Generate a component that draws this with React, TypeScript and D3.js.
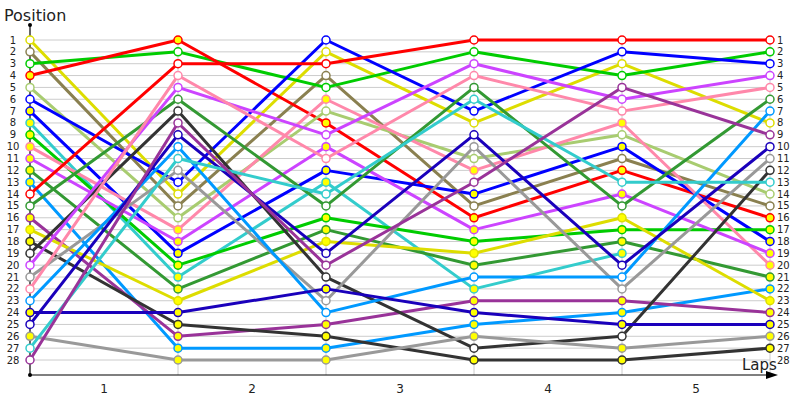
import React from "react";
import * as d3 from "d3";

const laps = ["1", "2", "3", "4", "5"];
const positionTicks = d3.range(1, 29);

const driverNames = [
  "yellowO", "olive", "greenO", "redF", "lightgreen", "blueO", "blueF", "tealF",
  "greenF", "pinkF", "violetF", "darkgreenF", "skyblueF", "redO", "darkgreenO",
  "purpleF", "yellowF", "darkgrayF", "darkgrayO", "violetO", "grayO", "pinkO",
  "skyblueO", "navyF", "navyO", "grayF", "tealO", "purpleO",
];
const driverColors = [
  "#dddd00", "#8a8050", "#00cc00", "#ff0000", "#a8cc70", "#0000ff", "#0000ff", "#33cccc",
  "#00cc00", "#ff88aa", "#cc44ff", "#339933", "#0099ff", "#ff0000", "#339933",
  "#993399", "#dddd00", "#333333", "#333333", "#cc44ff", "#999999", "#ff88aa",
  "#0099ff", "#1a00bb", "#1a00bb", "#999999", "#33cccc", "#993399",
];
const driverFilled = [
  false, false, false, true, false, false, true, true,
  true, true, true, true, true, false, false,
  true, true, true, false, false, false, false,
  false, true, false, true, false, false,
];
// positions at start, after lap 1..5 (null = retired)
const driverPositions: (number | null)[][] = [
  [1, 14, 2, 8, 3, 8],
  [2, 15, 4, 15, 11, 15],
  [3, 2, 5, 2, 4, 2],
  [4, 1, 8, 16, 12, 16],
  [5, 16, 7, 11, 9, 14],
  [6, 13, 1, 7, 2, 3],
  [7, 19, 12, 14, 10, 18],
  [8, 21, 13, 22, 19, null],
  [9, 20, 16, 18, 17, 17],
  [10, 17, 6, 12, 8, 20],
  [11, 18, 10, 17, 14, 19],
  [12, 22, 17, 20, 18, 21],
  [13, 27, 27, 25, 24, 22],
  [14, 3, 3, 1, 1, 1],
  [15, 6, 15, 5, 15, 6],
  [16, 26, 25, 23, 23, 24],
  [17, 23, 18, 19, 16, 23],
  [18, 25, 26, 28, 28, 27],
  [19, 7, 21, 27, 26, 12],
  [20, 5, 9, 3, 6, 4],
  [21, 12, 23, 10, 22, 11],
  [22, 4, 11, 4, 7, 5],
  [23, 10, 24, 21, 21, 7],
  [24, 24, 22, 24, 25, 25],
  [25, 9, 19, 9, 20, 10],
  [26, 28, 28, 26, 27, 26],
  [27, 11, 14, 6, 13, 13],
  [28, 8, 20, 13, 5, 9],
];

const W = 800;
const H = 400;

export default function App() {
  const x = d3.scaleLinear().domain([0, 5]).range([30, 770]);
  const y = d3.scaleLinear().domain([1, 28]).range([40, 360]);
  const axisY = 375;
  const font = "Tahoma, 'DejaVu Sans', sans-serif";

  const line = d3
    .line<[number, number | null]>()
    .defined((d) => d[1] !== null)
    .x((d) => x(d[0]))
    .y((d) => y(d[1] as number));

  return (
    <div style={{ position: "fixed", left: 0, top: 0 }}>
      <svg width={W} height={H} style={{ display: "block", background: "#fff" }}>
        {/* horizontal grid */}
        {positionTicks.map((p) => (
          <line key={"h" + p} x1={x(0)} x2={x(5)} y1={y(p)} y2={y(p)} stroke="#cccccc" strokeWidth={1} />
        ))}
        {/* vertical grid */}
        {d3.range(1, 6).map((i) => (
          <line key={"v" + i} x1={x(i)} x2={x(i)} y1={y(1)} y2={axisY} stroke="#cccccc" strokeWidth={1} />
        ))}
        {/* axes */}
        <line x1={x(0)} x2={x(0)} y1={25} y2={axisY} stroke="#000" strokeWidth={1.2} />
        <circle cx={x(0)} cy={25} r={2} fill="#000" />
        <circle cx={x(0)} cy={axisY} r={2} fill="#000" />
        <line x1={x(0)} x2={772} y1={axisY} y2={axisY} stroke="#000" strokeWidth={1.2} />
        <path d={`M${778},${axisY} L${766},${axisY - 4} L${766},${axisY + 4} Z`} fill="#000" />
        {/* left & right labels */}
        {positionTicks.map((p) => (
          <text key={"l" + p} x={13} y={y(p)} dy="0.35em" textAnchor="middle" fontFamily={font} fontSize={10} fill="#222">
            {p}
          </text>
        ))}
        {positionTicks.map((p) => (
          <text key={"r" + p} x={777} y={y(p)} dy="0.35em" textAnchor="start" fontFamily={font} fontSize={10} fill="#222">
            {p}
          </text>
        ))}
        {laps.map((l, i) => (
          <text key={"x" + l} x={x(i + 0.5)} y={389} dy="0.35em" textAnchor="middle" fontFamily={font} fontSize={12} fill="#222">
            {l}
          </text>
        ))}
        <text x={4} y={21} fontFamily={font} fontSize={16} fill="#222">Position</text>
        <text x={742} y={370} fontFamily={font} fontSize={15} fill="#222">Laps</text>
        {/* lines */}
        {driverNames.map((n, i) => (
          <path
            key={"p" + n}
            d={line(driverPositions[i].map((v, k) => [k, v] as [number, number | null])) || ""}
            fill="none"
            stroke={driverColors[i]}
            strokeWidth={3}
            strokeLinejoin="round"
          />
        ))}
        {/* markers */}
        {driverNames.map((n, i) =>
          driverPositions[i].map((v, k) =>
            v === null ? null : (
              <circle
                key={"c" + n + k}
                cx={x(k)}
                cy={y(v)}
                r={4}
                fill={driverFilled[i] ? "#ffff00" : "#ffffff"}
                stroke={driverColors[i]}
                strokeWidth={1.5}
              />
            )
          )
        )}
      </svg>
    </div>
  );
}
